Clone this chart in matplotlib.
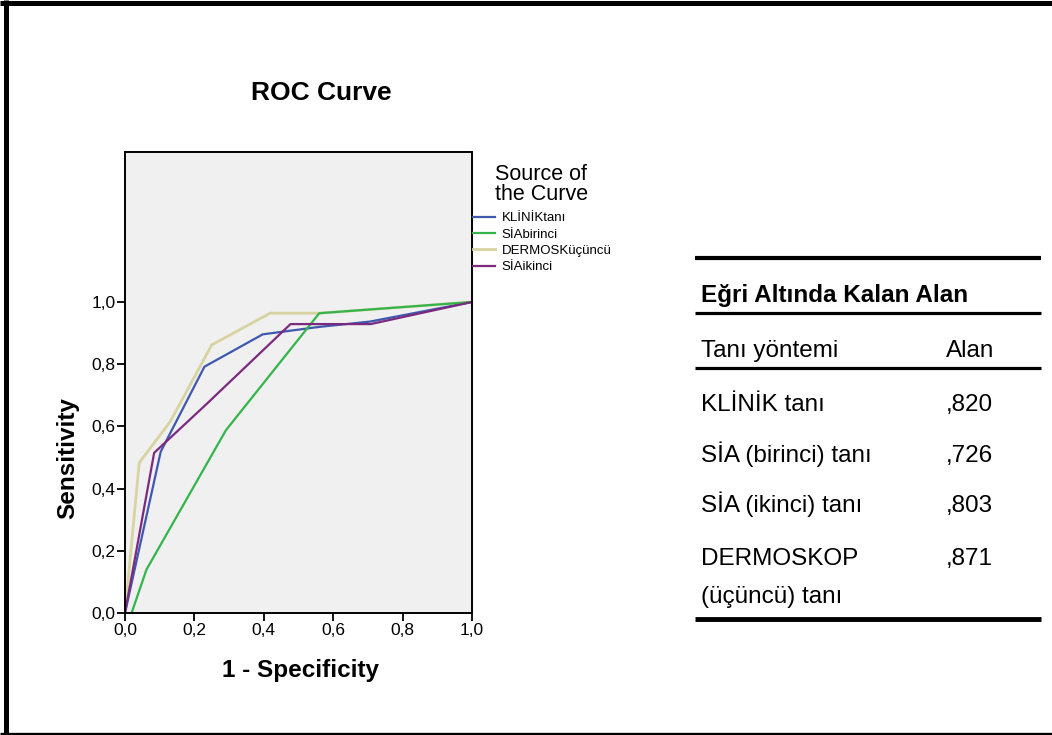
import matplotlib
matplotlib.use('Agg')
import matplotlib.pyplot as plt
from matplotlib.lines import Line2D
from matplotlib.ticker import FuncFormatter

plt.rcParams['font.family'] = ['Liberation Sans', 'DejaVu Sans']

# ROC curves (1 - specificity, sensitivity)
klinik_x = [0.0, 0.103, 0.229, 0.397, 0.56, 0.706, 1.0]
klinik_y = [0.0, 0.519, 0.792, 0.896, 0.92, 0.937, 1.0]
sia1_x = [0.019, 0.062, 0.291, 0.56, 1.0]
sia1_y = [0.0, 0.140, 0.588, 0.964, 1.0]
dermos_x = [0.0, 0.041, 0.130, 0.250, 0.418, 0.56, 1.0]
dermos_y = [0.0, 0.483, 0.615, 0.862, 0.964, 0.964, 1.0]
sia2_x = [0.0, 0.084, 0.237, 0.477, 0.708, 1.0]
sia2_y = [0.0, 0.515, 0.674, 0.929, 0.929, 1.0]

legend_labels = ['KLİNİKtanı', 'SİAbirinci', 'DERMOSKüçüncü', 'SİAikinci']
colors = ['#3e58b0', '#34b44a', '#d8d3a2', '#7c2a7e']

table_title = 'Eğri Altında Kalan Alan'
table_header = ['Tanı yöntemi', 'Alan']
table_rows = ['KLİNİK tanı', 'SİA (birinci) tanı', 'SİA (ikinci) tanı', 'DERMOSKOP']
table_vals = [',820', ',726', ',803', ',871']
table_extra = '(üçüncü) tanı'

W, H = 1052, 735
fig = plt.figure(figsize=(W/100, H/100), dpi=100)

def fx(px):
    return px / W

def fy(py):
    return 1 - py / H

ax = fig.add_axes([fx(125), fy(613), fx(472) - fx(125), fy(152) - fy(613)])
ax.set_facecolor('#f0f0f0')
ax.plot(klinik_x, klinik_y, color=colors[0], lw=1.6, label=legend_labels[0])
ax.plot(sia1_x, sia1_y, color=colors[1], lw=1.6, label=legend_labels[1])
ax.plot(dermos_x, dermos_y, color=colors[2], lw=2.0, label=legend_labels[2], zorder=1.9)
ax.plot(sia2_x, sia2_y, color=colors[3], lw=1.6, label=legend_labels[3])
ax.set_xlim(0, 1)
ax.set_ylim(0, 461 / 311)
ax.set_xticks([0, 0.2, 0.4, 0.6, 0.8, 1.0])
ax.set_yticks([0, 0.2, 0.4, 0.6, 0.8, 1.0])
fmt = FuncFormatter(lambda v, p: ('%.1f' % v).replace('.', ','))
ax.xaxis.set_major_formatter(fmt)
ax.yaxis.set_major_formatter(fmt)
ax.tick_params(direction='out', length=6, width=1.3, labelsize=12.5, pad=1)
for s in ax.spines.values():
    s.set_linewidth(1.4)

fig.text(fx(321), fy(100), 'ROC Curve', fontsize=19, fontweight='bold', ha='center', va='baseline')
fig.text(fx(300), fy(677), '1 - Specificity', fontsize=17.5, fontweight='bold', ha='center', va='baseline')
fig.text(fx(68), fy(458), 'Sensitivity', fontsize=17.5, fontweight='bold', ha='center', va='center', rotation=90)

fig.text(fx(495), fy(180), 'Source of', fontsize=15.5, ha='left', va='baseline')
fig.text(fx(495), fy(200), 'the Curve', fontsize=15.5, ha='left', va='baseline')
ax.legend(loc='upper left', bbox_to_anchor=(fx(473), fy(212)), bbox_transform=fig.transFigure,
          frameon=False, fontsize=9.5, handlelength=1.67, handletextpad=0.5,
          labelspacing=0.31, borderpad=0, borderaxespad=0)

# table of areas
def hline(py, lw):
    fig.add_artist(Line2D([fx(695), fx(1041)], [fy(py), fy(py)], color='black', lw=lw, solid_capstyle='butt'))

hline(258, 3.0)
hline(313, 2.3)
hline(368, 2.3)
hline(619, 3.5)
fig.text(fx(701), fy(302), table_title, fontsize=17.5, fontweight='bold', va='baseline')
fig.text(fx(701), fy(357), table_header[0], fontsize=17.5, va='baseline')
fig.text(fx(946), fy(357), table_header[1], fontsize=17.5, va='baseline')
row_y = [411, 462, 512, 565]
for lab, val, yy in zip(table_rows, table_vals, row_y):
    fig.text(fx(701), fy(yy), lab, fontsize=17.5, va='baseline')
    fig.text(fx(946), fy(yy), val, fontsize=17.5, va='baseline')
fig.text(fx(701), fy(603), table_extra, fontsize=17.5, va='baseline')

# black frame around the picture
fig.add_artist(Line2D([0, 1], [fy(2.5), fy(2.5)], color='black', lw=3.6, solid_capstyle='butt'))
fig.add_artist(Line2D([fx(5.5), fx(5.5)], [0, 1], color='black', lw=3.6, solid_capstyle='butt'))
fig.add_artist(Line2D([0, 1], [fy(733.5), fy(733.5)], color='black', lw=2.4, solid_capstyle='butt'))

fig.savefig('out.png', dpi=100, facecolor='white')
